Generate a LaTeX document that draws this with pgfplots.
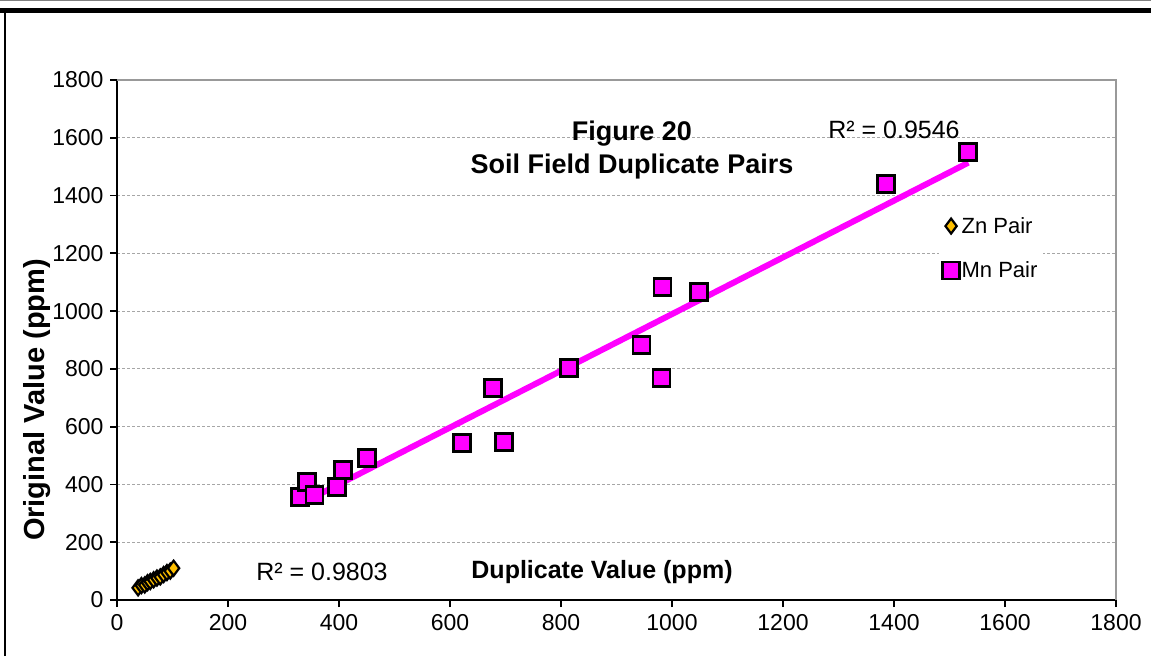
\documentclass[border=0pt]{standalone}
\usepackage{pgfplots}
\pgfplotsset{compat=1.18}
\usepackage{pgfplotstable}
\usepackage{fontspec}
\setmainfont{Liberation Sans}
\definecolor{mn}{HTML}{FF00FF}
\definecolor{zn}{HTML}{FFC000}
\pgfplotstableread{
x y
330 357
342 408
356 363
396 391
407 450
450 491
621 543
677 734
697 547
815 803
945 883
981 768
983 1083
1049 1066
1386 1440
1534 1551
}\mndata
\pgfplotstableread{
x y
38 42
44 50
50 52
55 60
60 64
66 70
72 76
78 80
84 88
90 95
96 100
102 110
}\zndata
\begin{document}
\begin{tikzpicture}[x=1pt,y=1pt]
\path[use as bounding box] (0,0) rectangle (1151,656);
\draw[gray,line width=1pt] (0,655.5)--(1151,655.5);
\draw[line width=5pt] (0,645.5) -- (1151,645.5);
\draw[line width=2pt] (5,0) -- (5,648);
\begin{axis}[
  at={(117pt,56pt)}, anchor=south west, scale only axis,
  width=999pt, height=520pt,
  xmin=0, xmax=1800, ymin=0, ymax=1800,
  xtick distance=200, ytick distance=200,
  axis x line*=bottom, axis y line*=left,
  axis line style={-, black, line width=1.8pt},
  tick align=outside, major tick length=7pt,
  tick style={black, line width=1.8pt},
  ymajorgrids, grid style={densely dashed, gray!70, line width=1pt},
  /pgf/number format/assume math mode=true,
  /pgf/number format/1000 sep={},
  ticklabel style={font=\fontsize{23}{25}\selectfont},
  xticklabel style={yshift=-4pt},
  yticklabel style={xshift=-3pt},
  legend style={at={(axis cs:1480,1346)}, anchor=north west, draw=none, fill=white,
    font=\fontsize{22}{24}\selectfont, row sep=23pt, inner sep=4pt},
  legend image code/.code={\draw[#1] plot coordinates {(0.1cm,0cm)};},
  legend cell align=left,
  clip=false,
]
\draw[gray!80, line width=2pt] (rel axis cs:0,1) -- (rel axis cs:1,1) -- (rel axis cs:1,0);
\addplot[only marks, mark=diamond*, mark size=7.5pt, mark options={fill=zn, draw=black, line width=2.2pt}] table {\zndata};
\addlegendentry{Zn Pair}
\addplot[only marks, mark=square*, mark size=8.5pt, mark options={fill=mn, draw=black, line width=2.8pt}] table {\mndata};
\addlegendentry{Mn Pair}
\addplot[mn, line width=6pt, forget plot] table[y={create col/linear regression={y=y}}] {\mndata};
\addplot[zn, line width=3pt, forget plot] table[y={create col/linear regression={y=y}}] {\zndata};
\end{axis}
\node[font=\bfseries\fontsize{27}{29}\selectfont, align=center] at (632,656-150) {Figure 20\\[4pt]Soil Field Duplicate Pairs};
\node[font=\fontsize{25}{27}\selectfont] at (894,656-130) {R² = 0.9546};
\node[font=\fontsize{25}{27}\selectfont] at (322,656-572) {R² = 0.9803};
\node[font=\bfseries\fontsize{25}{27}\selectfont] at (602,656-572) {Duplicate Value (ppm)};
\node[font=\bfseries\fontsize{29}{31}\selectfont, rotate=90] at (37,656-400) {Original Value (ppm)};
\end{tikzpicture}
\end{document}
